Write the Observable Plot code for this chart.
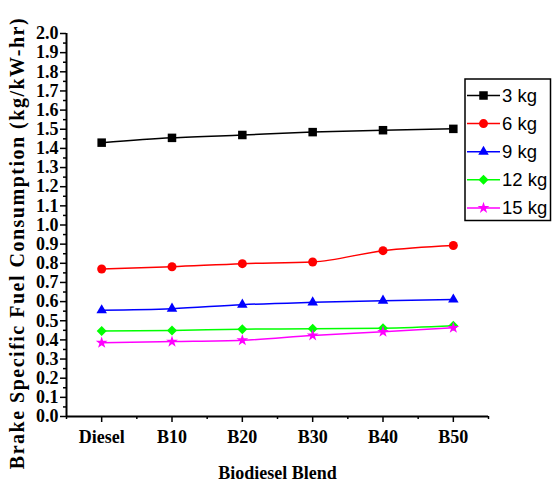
<!DOCTYPE html>
<html>
<head>
<meta charset="utf-8">
<script src="https://cdn.jsdelivr.net/npm/d3@7"></script>
<script src="https://cdn.jsdelivr.net/npm/@observablehq/plot@0.6"></script>
<style>
  html, body { margin: 0; padding: 0; background: #fff; }
  #wrap { position: relative; width: 552px; height: 486px; overflow: hidden; }
  #legend { position: absolute; left: 464px; top: 78px; }
</style>
</head>
<body>
<div id="wrap"></div>
<script>
const categories = ["Diesel", "B10", "B20", "B30", "B40", "B50"];
const seriesNames = ["3 kg", "6 kg", "9 kg", "12 kg", "15 kg"];
const load3  = [1.430, 1.455, 1.470, 1.485, 1.495, 1.502];
const load6  = [0.770, 0.782, 0.798, 0.807, 0.866, 0.893];
const load9  = [0.555, 0.563, 0.584, 0.596, 0.605, 0.611];
const load12 = [0.447, 0.449, 0.456, 0.458, 0.461, 0.474];
const load15 = [0.385, 0.391, 0.398, 0.423, 0.442, 0.463];
const seriesValues = [load3, load6, load9, load12, load15];
const seriesColors = ["#000000", "#ff0000", "#0000ff", "#00ff00", "#ff00ff"];
const seriesSymbols = ["square", "circle", "triangle", "diamond2", "star"];
const symbolR = [4.8, 4.5, 3.9, 4.5, 3.7];
const yTicks = d3.range(0, 21).map(i => i / 10);
const yMinorTicks = d3.range(0, 20).map(i => i / 10 + 0.05);
const xMinorTicks = d3.range(0, 7).map(i => i - 0.5);
const yTitle = "Brake Specific Fuel Consumption (kg/kW-hr)";
const xTitle = "Biodiesel Blend";

const table = [];
seriesNames.forEach((s, k) => seriesValues[k].forEach((v, i) => table.push({series: s, i, value: v})));

const lineMarks = seriesNames.map((s, k) =>
  Plot.line(table.filter(d => d.series === s), {x: "i", y: "value", stroke: seriesColors[k], strokeWidth: 1.5, curve: "monotone-x"}));
const dotMarks = seriesNames.map((s, k) =>
  Plot.dot(table.filter(d => d.series === s), {x: "i", y: "value", symbol: seriesSymbols[k], fill: seriesColors[k], stroke: "none", r: symbolR[k]}));

const chart = Plot.plot({
  width: 552, height: 486,
  marginLeft: 66, marginRight: 64, marginTop: 33, marginBottom: 70,
  style: {fontFamily: "'Liberation Serif', 'Times New Roman', serif", fontWeight: "bold", fontSize: "18px", color: "#000", background: "#fff", overflow: "visible"},
  x: {type: "linear", domain: [-0.5, 5.5]},
  y: {domain: [0, 2]},
  marks: [
    Plot.axisY({ticks: yTicks, tickSize: 6, tickPadding: 2, tickFormat: d => d.toFixed(1), strokeWidth: 1.5,
      label: yTitle, labelAnchor: "center", labelArrow: "none", labelOffset: 57}),
    Plot.axisY({ticks: yMinorTicks, tickSize: 3, tickFormat: () => "", strokeWidth: 1.5, label: null}),
    Plot.axisX({ticks: d3.range(0, 6), tickSize: 6, tickPadding: 8, tickFormat: i => categories[i], strokeWidth: 1.5,
      label: xTitle, labelAnchor: "center", labelArrow: "none", labelOffset: 62}),
    Plot.axisX({ticks: xMinorTicks, tickSize: 3, tickFormat: () => "", strokeWidth: 1.5, label: null}),
    Plot.ruleX([-0.5], {strokeWidth: 2}),
    Plot.ruleY([0], {strokeWidth: 2}),
    ...lineMarks,
    ...dotMarks
  ]
});
document.getElementById("wrap").appendChild(chart);

// Enlarge and re-center the y-axis title (shift down, keep Plot's own offset)
d3.select(chart).selectAll('g[aria-label="y-axis label"]').each(function() {
  const g = d3.select(this);
  const old = g.attr("transform") || "";
  g.attr("transform", `translate(0,18) ${old}`);
  g.selectAll("text").style("font-size", "20px").style("letter-spacing", "1.5px");
});

// Legend
const lw = 88, lh = 144, rowH = 28.1;
const leg = d3.select("#wrap").append("svg").attr("id", "legend").attr("width", lw).attr("height", lh);
leg.append("rect").attr("x", 1).attr("y", 1).attr("width", lw - 2.5).attr("height", lh - 2.5)
  .attr("fill", "#fff").attr("stroke", "#000").attr("stroke-width", 1.5);
const d3Sym = {square: d3.symbolSquare, circle: d3.symbolCircle, triangle: d3.symbolTriangle, diamond2: d3.symbolDiamond2, star: d3.symbolStar};
seriesNames.forEach((s, k) => {
  const cy = 17.5 + k * rowH;
  const g = leg.append("g").attr("transform", `translate(0,${cy})`);
  g.append("line").attr("x1", 3).attr("x2", 36).attr("y1", 0).attr("y2", 0).attr("stroke", seriesColors[k]).attr("stroke-width", 1.5);
  g.append("path").attr("transform", "translate(19.5,0)")
    .attr("d", d3.symbol(d3Sym[seriesSymbols[k]], symbolR[k] * symbolR[k] * Math.PI)()).attr("fill", seriesColors[k]);
  g.append("text").attr("x", 38).attr("y", 0).attr("dy", "0.35em")
    .attr("font-family", "'Liberation Sans', Arial, sans-serif").attr("font-size", "18.5px").text(s);
});
</script>
</body>
</html>
